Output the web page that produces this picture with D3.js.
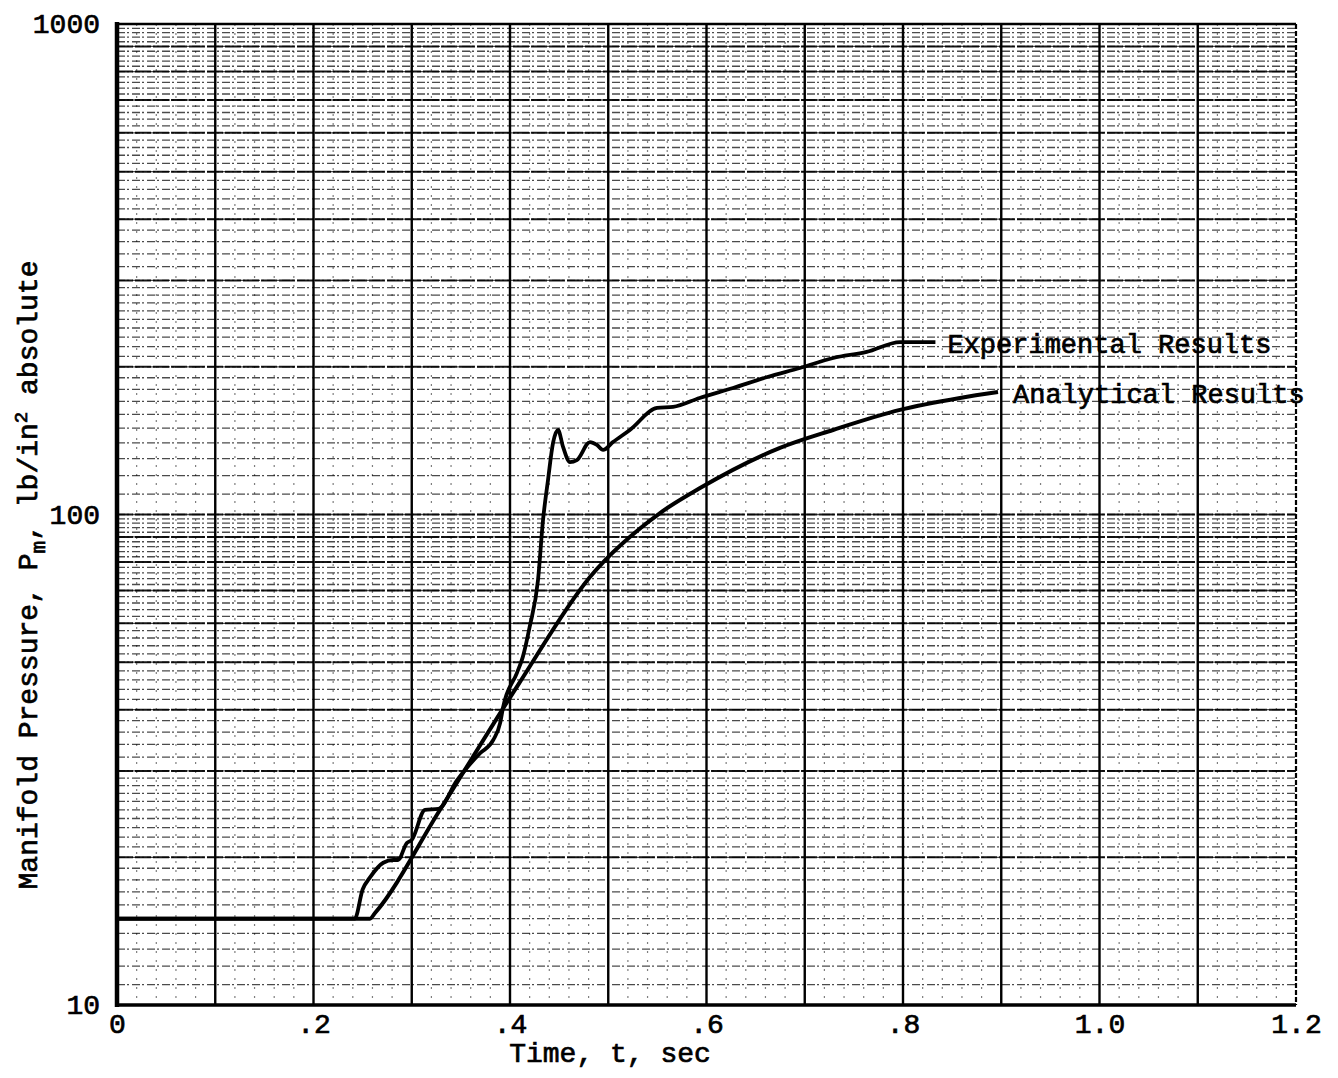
<!DOCTYPE html>
<html>
<head>
<meta charset="utf-8">
<script src="https://cdn.jsdelivr.net/npm/d3@7"></script>
<style>
  body { margin: 0; background: #fff; }
  text { font-family: "Liberation Mono", "DejaVu Sans Mono", monospace; fill: #000;
         stroke: #000; stroke-width: 0.7px; }
</style>
</head>
<body>
<svg id="svg1" width="1338" height="1078"></svg>
<script>
// values
var expTime = [0, 0.242, 0.250, 0.2575, 0.271, 0.281, 0.286, 0.295, 0.300, 0.3135, 0.327, 0.346,
               0.357, 0.3695, 0.383, 0.390, 0.393, 0.407, 0.413, 0.420, 0.4285, 0.4336, 0.4387,
               0.4438, 0.4489, 0.454, 0.461, 0.468, 0.4814, 0.4885, 0.4947, 0.5048, 0.522,
               0.5496, 0.566, 0.593, 0.627, 0.662, 0.695, 0.729, 0.763, 0.797, 0.833];
var expPressure = [15, 15, 17.2, 18.2, 19.5, 19.75, 19.75, 21.4, 21.7, 25.0, 25.1, 28.7,
                   30.6, 32.6, 34.7, 37.6, 40.5, 47.5, 51.2, 59.0, 73.5, 97.4, 117.6,
                   139.9, 148.7, 137.3, 127.9, 129.1, 140.5, 138.6, 135.4, 140.5, 148.7,
                   164.9, 165.7, 172.8, 181.1, 190.7, 198.9, 208.5, 214.5, 224.7, 224.7];
var anaTime = [0, 0.2575, 0.2626, 0.3288, 0.4081, 0.4814, 0.5527, 0.5934, 0.6748, 0.7288, 0.7969, 0.858, 0.8967];
var anaPressure = [15, 15, 15.4, 25.0, 44.9, 74.6, 100.7, 113.2, 136.7, 148.7, 163.4, 172.8, 177.7];

var yTicks = [10, 100, 1000];
var xTicks = [0, 0.2, 0.4, 0.6, 0.8, 1.0, 1.2];
var xTickLabels = ["0", ".2", ".4", ".6", ".8", "1.0", "1.2"];
var seriesLabels = ["Experimental Results", "Analytical Results"];

var svg = d3.select('#svg1');
var plotLeft = 117, plotRight = 1296, plotTop = 24, plotBottom = 1005;

var xScale = d3.scaleLinear().domain([0, 1.2]).range([plotLeft, plotRight]);
var yScale = d3.scaleLog().domain([10, 1000]).range([plotBottom, plotTop]);

var grid = svg.append("g");

// vertical grid: faint every .02, heavy every .1
var vMinor = d3.range(0, 1.2001, 0.02).filter(function(v){ return Math.abs(v * 10 - Math.round(v * 10)) > 0.01; });
grid.selectAll(".vminor").data(vMinor).enter().append("line")
    .attr("x1", function(d){ return xScale(d); }).attr("x2", function(d){ return xScale(d); })
    .attr("y1", plotTop).attr("y2", plotBottom)
    .attr("stroke", "#000").attr("stroke-width", 1.2)
    .attr("stroke-dasharray", "2,7").attr("opacity", 0.5);

// horizontal grid, log paper style
var hMinor = [], hMajor = [];
[10, 100].forEach(function(dec){
    d3.range(1, 3, 0.1).forEach(function(m){ hMinor.push(m * dec); });
    d3.range(3, 10, 0.2).forEach(function(m){ hMinor.push(m * dec); });
    d3.range(2, 10).forEach(function(m){ hMajor.push(m * dec); });
});
grid.selectAll(".hminor").data(hMinor).enter().append("line")
    .attr("x1", plotLeft).attr("x2", plotRight)
    .attr("y1", function(d){ return yScale(d); }).attr("y2", function(d){ return yScale(d); })
    .attr("stroke", "#000").attr("stroke-width", 1.3)
    .attr("stroke-dasharray", "8,2,2,3").attr("opacity", 0.7);
grid.selectAll(".hmajor").data(hMajor.concat([100])).enter().append("line")
    .attr("x1", plotLeft).attr("x2", plotRight)
    .attr("y1", function(d){ return yScale(d); }).attr("y2", function(d){ return yScale(d); })
    .attr("stroke", "#000").attr("stroke-width", 2)
    .attr("stroke-dasharray", "16,2").attr("opacity", 0.9);

var vMajor = d3.range(1, 12).map(function(i){ return i / 10; });
grid.selectAll(".vmajor").data(vMajor).enter().append("line")
    .attr("x1", function(d){ return xScale(d); }).attr("x2", function(d){ return xScale(d); })
    .attr("y1", plotTop).attr("y2", plotBottom)
    .attr("stroke", "#000").attr("stroke-width", 2.4);

// frame
svg.append("line").attr("x1", plotLeft).attr("x2", plotLeft).attr("y1", plotTop - 2).attr("y2", plotBottom + 2)
    .attr("stroke", "#000").attr("stroke-width", 4.5);
svg.append("line").attr("x1", plotLeft).attr("x2", plotRight).attr("y1", plotBottom).attr("y2", plotBottom)
    .attr("stroke", "#000").attr("stroke-width", 3.5);
svg.append("line").attr("x1", plotLeft).attr("x2", plotRight).attr("y1", plotTop).attr("y2", plotTop)
    .attr("stroke", "#000").attr("stroke-width", 2.5);
svg.append("line").attr("x1", plotRight).attr("x2", plotRight).attr("y1", plotTop).attr("y2", plotBottom)
    .attr("stroke", "#000").attr("stroke-width", 2.2).attr("stroke-dasharray", "5,2");

// curves
var line = d3.line()
    .x(function(d){ return xScale(d[0]); })
    .y(function(d){ return yScale(d[1]); })
    .curve(d3.curveMonotoneX);

svg.append("path").datum(d3.zip(anaTime, anaPressure))
    .attr("d", line).attr("fill", "none").attr("stroke", "#000").attr("stroke-width", 4);
svg.append("path").datum(d3.zip(expTime, expPressure))
    .attr("d", line).attr("fill", "none").attr("stroke", "#000").attr("stroke-width", 3.8);

// curve labels
svg.append("text").attr("x", xScale(expTime[expTime.length - 1]) + 12)
    .attr("y", yScale(expPressure[expPressure.length - 1]) + 11)
    .style("font-size", "27px").text(seriesLabels[0]);
svg.append("text").attr("x", xScale(anaTime[anaTime.length - 1]) + 15)
    .attr("y", yScale(anaPressure[anaPressure.length - 1]) + 11)
    .style("font-size", "27px").text(seriesLabels[1]);

// axes
var yAxis = d3.axisLeft(yScale).tickValues(yTicks).tickSize(0).tickPadding(17)
    .tickFormat(d3.format("d"));
var gy = svg.append("g").attr("transform", "translate(" + plotLeft + ",0)").call(yAxis);
gy.select(".domain").remove();
gy.selectAll("text").style("font-size", "28px").attr("font-family", null);

var xAxis = d3.axisBottom(xScale).tickValues(xTicks).tickSize(0).tickPadding(8)
    .tickFormat(function(d, i){ return xTickLabels[i]; });
var gx = svg.append("g").attr("transform", "translate(0," + plotBottom + ")").call(xAxis);
gx.select(".domain").remove();
gx.selectAll("text").style("font-size", "28px").attr("font-family", null);

svg.append("text").attr("x", 610).attr("y", 1062).attr("text-anchor", "middle")
    .style("font-size", "28px").text("Time, t, sec");

var yt = svg.append("text")
    .attr("transform", "translate(37,575) rotate(-90)")
    .attr("text-anchor", "middle")
    .style("font-size", "28px");
yt.append("tspan").text("Manifold Pressure, P");
yt.append("tspan").attr("dy", 8).style("font-size", "21px").text("m");
yt.append("tspan").attr("dy", -8).text(", lb/in");
yt.append("tspan").attr("dy", -10).style("font-size", "19px").text("2");
yt.append("tspan").attr("dy", 10).text(" absolute");
</script>
</body>
</html>
